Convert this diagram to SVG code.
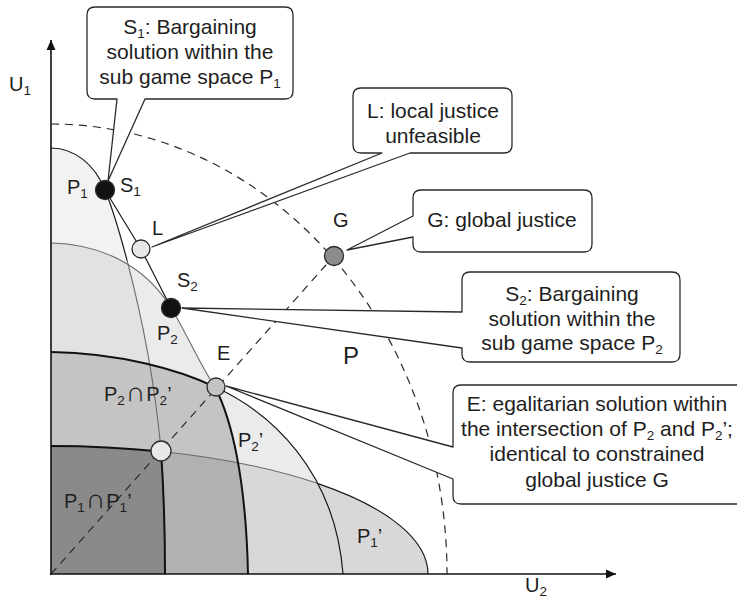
<svg xmlns="http://www.w3.org/2000/svg" xmlns:xlink="http://www.w3.org/1999/xlink" width="737" height="602" viewBox="0 0 737 602">
  <style>
    text { font-family: "Liberation Sans", Arial, Helvetica, sans-serif; fill: #1e1e1e; }
    .call { font-size: 21px; text-anchor: middle; }
    .lbl { font-size: 20px; }
    .sub { font-size: 13.5px; }
    .cap { font-size: 27px; }
    .bubble { fill: #ffffff; stroke: #2a2a2a; stroke-width: 1.3; stroke-linejoin: round; }
    .thin { fill: none; stroke: #1a1a1a; stroke-width: 1.2; }
    .thick { fill: none; stroke: #111111; stroke-width: 2; }
    .inner { fill: none; stroke: #6a6a6a; stroke-width: 1.1; }
    .dash { fill: none; stroke: #2a2a2a; stroke-width: 1.2; stroke-dasharray: 8 6; }
    .pt { stroke: #2a2a2a; stroke-width: 1.3; }
  </style>
  <defs>
    <!-- feasible sets, all anchored at the origin (51,574) -->
    <path id="p1" d="M51,574 V148 C75,148 95,165 105,190 C118,222 150,330 161,450 C163,480 165,530 165,574 Z"/>
    <path id="p2" d="M51,574 V243 C100,244 145,265 171,308 C185,330 200,365 215,387 C232,420 246,480 248,574 Z"/>
    <path id="p2p" d="M51,574 V352 C120,353 180,370 215,387 C270,412 335,470 343,574 Z"/>
    <path id="p1p" d="M51,574 V446 A377,128 0 0 1 428,574 Z"/>
    <clipPath id="clip-p1"><use xlink:href="#p1"/></clipPath>
    <clipPath id="clip-p2"><use xlink:href="#p2"/></clipPath>
    <marker id="arrow" viewBox="0 0 10 10" refX="10" refY="5" markerWidth="10" markerHeight="10" markerUnits="userSpaceOnUse" orient="auto">
      <path d="M0,0.5 L10,5 L0,9.5 Z" fill="#111"/>
    </marker>
  </defs>

  <!-- shaded regions -->
  <g id="regions">
    <use xlink:href="#p1" fill="#f2f2f2"/>
    <use xlink:href="#p2" fill="#ebebeb"/>
    <use xlink:href="#p2p" fill="#ebebeb"/>
    <use xlink:href="#p1" fill="#e2e2e2" clip-path="url(#clip-p2)"/>
    <use xlink:href="#p2p" fill="#c4c4c4" clip-path="url(#clip-p2)"/>
    <use xlink:href="#p1p" fill="#d8d8d8"/>
    <use xlink:href="#p1p" fill="#b1b1b1" clip-path="url(#clip-p2)"/>
    <use xlink:href="#p1p" fill="#8a8a8a" clip-path="url(#clip-p1)"/>
  </g>

  <!-- region boundaries -->
  <g id="boundaries">
    <path class="thin" d="M51,148 C75,148 95,165 105,190"/>
    <path class="thin" d="M105,190 C110.2,202.8 118.44,227.76 127.16,260.78"/>
    <path class="inner" d="M127.16,260.78 C140.24,310.32 154.4,378 161,450"/>
    <path class="thick" d="M161,450 C163,480 165,530 165,574"/>
    <path class="thick" d="M51,446 A377,128 0 0 1 161,451.57"/>
    <path class="inner" d="M161,451.57 A377,128 0 0 1 318,483.6"/>
    <path class="thin" d="M318,483.6 A377,128 0 0 1 428,574"/>
    <path class="inner" d="M51,243 C100,244 145,265 171,308"/>
    <path class="inner" d="M171,308 C185,330 200,365 215,387"/>
    <path class="thick" d="M215,387 C232,420 246,480 248,574"/>
    <path class="thick" d="M51,352 C120,353 180,370 215,387"/>
    <path class="thin" d="M215,387 C270,412 335,470 343,574"/>
  </g>

  <!-- axes -->
  <g id="axes">
    <path d="M51,575 V40" fill="none" stroke="#111" stroke-width="1.6" marker-end="url(#arrow)"/>
    <path d="M50,574 H616" fill="none" stroke="#111" stroke-width="1.6" marker-end="url(#arrow)"/>
    <text class="lbl" x="9" y="91">U<tspan class="sub" dy="4">1</tspan></text>
    <text class="lbl" x="525" y="592">U<tspan class="sub" dy="4">2</tspan></text>
  </g>

  <!-- connecting lines -->
  <g id="connectors">
    <path class="dash" d="M51,124 A396,450 0 0 1 447,574"/>
    <path class="dash" d="M51,574 L334,256" stroke-dasharray="7 6" stroke-width="1"/>
    <path class="thin" d="M105,190 L141,249 L171,308"/>
  </g>

  <!-- region labels -->
  <g id="region-labels">
    <text class="lbl" x="67" y="194">P<tspan class="sub" dy="4">1</tspan></text>
    <text class="lbl" x="157" y="340">P<tspan class="sub" dy="4">2</tspan></text>
    <text style="font-size:24px" x="343" y="364">P</text>
    <text class="lbl" x="104" y="401">P<tspan class="sub" dy="4">2</tspan><tspan class="cap" dy="-4" dx="1">∩</tspan><tspan dx="1">P</tspan><tspan class="sub" dy="4">2</tspan><tspan dy="-4">’</tspan></text>
    <text class="lbl" x="238" y="447">P<tspan class="sub" dy="4">2</tspan><tspan dy="-4">’</tspan></text>
    <text class="lbl" x="64" y="508">P<tspan class="sub" dy="4">1</tspan><tspan class="cap" dy="-4" dx="1">∩</tspan><tspan dx="1">P</tspan><tspan class="sub" dy="4">1</tspan><tspan dy="-4">’</tspan></text>
    <text class="lbl" x="357" y="543">P<tspan class="sub" dy="4">1</tspan><tspan dy="-4">’</tspan></text>
  </g>

  <!-- solution points -->
  <g id="point-S1">
    <circle class="pt" cx="105" cy="190" r="9.5" fill="#111"/>
    <text class="lbl" x="120" y="192">S<tspan class="sub" dy="4">1</tspan></text>
  </g>
  <g id="point-L">
    <circle class="pt" cx="141" cy="249" r="9" fill="#e8e8e8"/>
    <text class="lbl" x="152" y="235">L</text>
  </g>
  <g id="point-S2">
    <circle class="pt" cx="171" cy="308" r="9.5" fill="#111"/>
    <text class="lbl" x="177" y="287">S<tspan class="sub" dy="4">2</tspan></text>
  </g>
  <g id="point-G">
    <circle class="pt" cx="334" cy="256" r="9.5" fill="#8c8c8c"/>
    <text class="lbl" x="333" y="227">G</text>
  </g>
  <g id="point-E">
    <circle class="pt" cx="216" cy="387" r="9" fill="#c4c4c4"/>
    <text class="lbl" x="217" y="360">E</text>
  </g>
  <g id="point-E1">
    <circle class="pt" cx="161" cy="451" r="10" fill="#e8e8e8"/>
  </g>

  <!-- callouts -->
  <g id="callout-S1">
    <path class="bubble" d="M95,7 H285 Q293,7 293,15 V91 Q293,99 285,99 H145 L108,181 L117,99 H95 Q87,99 87,91 V15 Q87,7 95,7 Z"/>
    <text class="call" x="190" y="34">S<tspan class="sub" dy="4">1</tspan><tspan dy="-4">: Bargaining</tspan></text>
    <text class="call" x="190" y="59">solution within the</text>
    <text class="call" x="190" y="84">sub game space P<tspan class="sub" dy="4">1</tspan></text>
  </g>
  <g id="callout-L">
    <path class="bubble" d="M361,88 H504 Q512,88 512,96 V145 Q512,153 504,153 H410 L152,247 L382,153 H361 Q353,153 353,145 V96 Q353,88 361,88 Z"/>
    <text class="call" x="433" y="118">L: local justice</text>
    <text class="call" x="433" y="143">unfeasible</text>
  </g>
  <g id="callout-G">
    <path class="bubble" d="M421,190 H584 Q592,190 592,198 V244 Q592,252 584,252 H421 Q413,252 413,244 V237 L347,250 L413,216 V198 Q413,190 421,190 Z"/>
    <text class="call" x="502" y="227">G: global justice</text>
  </g>
  <g id="callout-S2">
    <path class="bubble" d="M470,272 H672 Q680,272 680,280 V354 Q680,362 672,362 H470 Q462,362 462,354 V348 L182,308 L462,312 V280 Q462,272 470,272 Z"/>
    <text class="call" x="572" y="301">S<tspan class="sub" dy="4">2</tspan><tspan dy="-4">: Bargaining</tspan></text>
    <text class="call" x="572" y="326">solution within the</text>
    <text class="call" x="572" y="350">sub game space P<tspan class="sub" dy="4">2</tspan></text>
  </g>
  <g id="callout-E">
    <path class="bubble" d="M461,385 H760 V504 H461 Q453,504 453,496 V479 L226,386 L453,447 V393 Q453,385 461,385 Z"/>
    <text class="call" x="597" y="411">E: egalitarian solution within</text>
    <text class="call" x="597" y="436">the intersection of P<tspan class="sub" dy="4">2</tspan><tspan dy="-4"> and P</tspan><tspan class="sub" dy="4">2</tspan><tspan dy="-4">’;</tspan></text>
    <text class="call" x="597" y="461">identical to constrained</text>
    <text class="call" x="597" y="487">global justice G</text>
  </g>
</svg>
